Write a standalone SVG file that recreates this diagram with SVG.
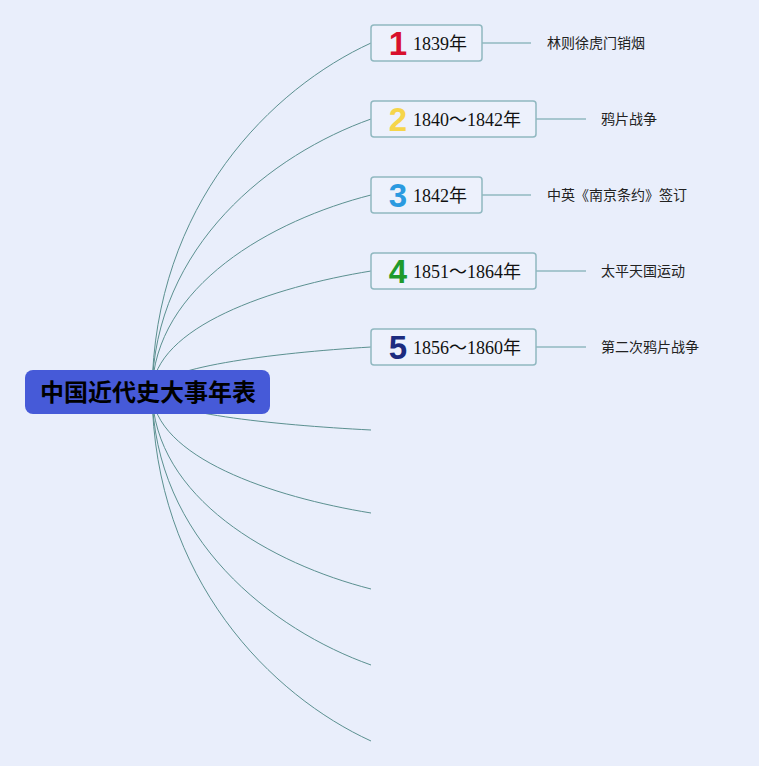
<svg xmlns="http://www.w3.org/2000/svg" width="759" height="766" viewBox="0 0 759 766">
<style>
.bg{fill:#e9eefb}
.curve{fill:none;stroke:#5b9090;stroke-width:1}
.link{fill:none;stroke:#90b8c0;stroke-width:1.5}
.box{fill:#edf1fc;stroke:#90b8c0;stroke-width:1.5}
.num{font-family:"Liberation Sans",Arial,sans-serif;font-weight:bold;font-size:33px;text-anchor:middle}
.year{font-family:"Liberation Serif","Noto Sans CJK SC",serif;font-size:18px;fill:#111}
.label{font-family:"Noto Sans CJK SC","Noto Sans",sans-serif;font-size:14px;fill:#222}
.root{fill:#465ad8}
.rootText{font-family:"Noto Sans CJK SC",sans-serif;font-weight:bold;font-size:24px;fill:#000;text-anchor:middle}
</style>
<rect class="bg" x="0" y="0" width="759" height="766"/>
<g id="connectors">
<path class="curve" d="M152,392 C154,203.5 272.5,88 371,43"/>
<path class="curve" d="M152,392 C154,244.5 272.5,154 371,119"/>
<path class="curve" d="M152,392 C154,285.5 272.5,220 371,195"/>
<path class="curve" d="M152,392 C154,326.5 272.5,287 371,271"/>
<path class="curve" d="M152,392 C154,367.7 272.5,352.9 371,347"/>
<path class="curve" d="M152,392 C154,412.5 272.5,425 371,430"/>
<path class="curve" d="M152,392 C154,457.4 272.5,497 371,513"/>
<path class="curve" d="M152,392 C154,498.5 272.5,564 371,589"/>
<path class="curve" d="M152,392 C154,539.5 272.5,630 371,665"/>
<path class="curve" d="M152,392 C154,580.5 272.5,696 371,741"/>
<path class="link" d="M482,43 H531"/>
<path class="link" d="M536,119 H586"/>
<path class="link" d="M482,195 H531"/>
<path class="link" d="M536,271 H586"/>
<path class="link" d="M536,347 H586"/>
</g>
<g id="root">
<rect class="root" x="25" y="370" width="245" height="44" rx="8"/>
<text class="rootText" x="148" y="401">中国近代史大事年表</text>
</g>
<g id="node1">
<rect class="box" x="371" y="25" width="111" height="36" rx="3"/>
<text class="num" x="398" y="55" fill="#d8102c">1</text>
<text class="year" x="413" y="50">1839年</text>
</g>
<g id="label1"><text class="label" x="547" y="48">林则徐虎门销烟</text></g>
<g id="node2">
<rect class="box" x="371" y="101" width="165" height="36" rx="3"/>
<text class="num" x="398" y="131" fill="#f6d54a">2</text>
<text class="year" x="413" y="126">1840～1842年</text>
</g>
<g id="label2"><text class="label" x="601" y="124">鸦片战争</text></g>
<g id="node3">
<rect class="box" x="371" y="177" width="111" height="36" rx="3"/>
<text class="num" x="398" y="207" fill="#2b9ae0">3</text>
<text class="year" x="413" y="202">1842年</text>
</g>
<g id="label3"><text class="label" x="547" y="200">中英《南京条约》签订</text></g>
<g id="node4">
<rect class="box" x="371" y="253" width="165" height="36" rx="3"/>
<text class="num" x="398" y="283" fill="#1f9a2c">4</text>
<text class="year" x="413" y="278">1851～1864年</text>
</g>
<g id="label4"><text class="label" x="601" y="276">太平天国运动</text></g>
<g id="node5">
<rect class="box" x="371" y="329" width="165" height="36" rx="3"/>
<text class="num" x="398" y="359" fill="#1c2b7f">5</text>
<text class="year" x="413" y="354">1856～1860年</text>
</g>
<g id="label5"><text class="label" x="601" y="352">第二次鸦片战争</text></g>
</svg>
